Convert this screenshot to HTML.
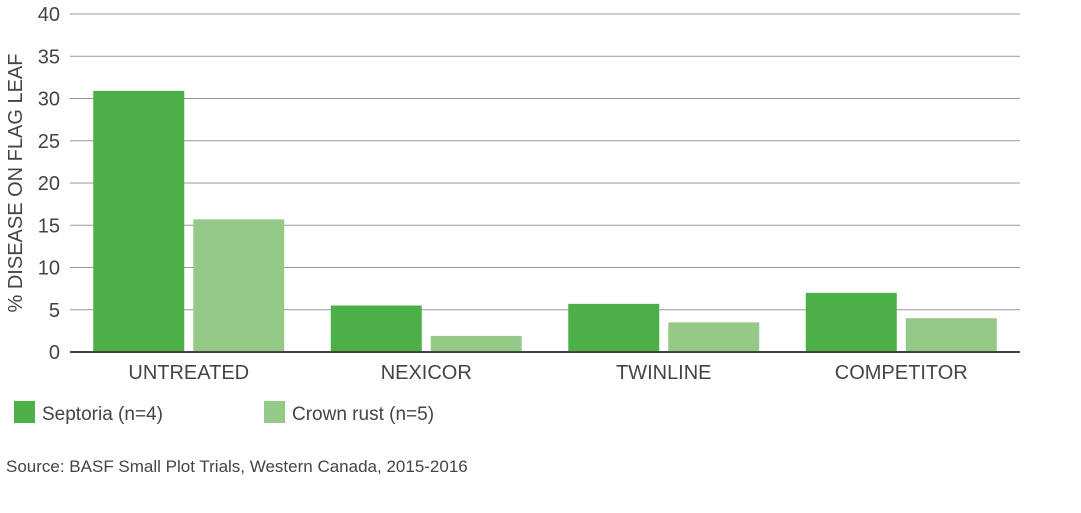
<!DOCTYPE html>
<html><head><meta charset="utf-8"><style>
body{margin:0;background:#fff;width:1081px;height:508px;overflow:hidden}
svg{font-family:"Liberation Sans",Arial,sans-serif}
</style></head><body>
<svg id="chart" width="1081" height="508">
<g id="grid"></g>
<g id="bars"></g>
<g id="ylabels"></g>
<g id="xlabels"></g>
<text transform="translate(22,183) rotate(-90)" text-anchor="middle" font-size="20" fill="#444">% DISEASE ON FLAG LEAF</text>
<g>
<rect x="14" y="401" width="21" height="22" fill="#4caf47"/>
<text x="42" y="420" font-size="19" fill="#444">Septoria (n=4)</text>
<rect x="264" y="401" width="21" height="22" fill="#95c987"/>
<text x="292" y="420" font-size="19" fill="#444">Crown rust (n=5)</text>
</g>
<text x="6" y="472" font-size="17" fill="#444">Source: BASF Small Plot Trials, Western Canada, 2015-2016</text>
</svg>
<script>
const categories=["UNTREATED","NEXICOR","TWINLINE","COMPETITOR"];
const septoria=[30.9,5.5,5.7,7.0];
const crownRust=[15.7,1.9,3.5,4.0];
const yTicks=[0,5,10,15,20,25,30,35,40];
const NS="http://www.w3.org/2000/svg";
const x0=70,x1=1020,y0=352,y1=14,ymax=40;
function y(v){return y0-(v/ymax)*(y0-y1);}
const band=(x1-x0)/categories.length;
function cx(i){return x0+band*(i+0.5);}
function mk(t,a,p){const e=document.createElementNS(NS,t);for(const k in a)e.setAttribute(k,a[k]);p.appendChild(e);return e;}
const grid=document.getElementById('grid'),yl=document.getElementById('ylabels'),bars=document.getElementById('bars'),xl=document.getElementById('xlabels');
yTicks.forEach(t=>{
 const l=mk('line',{x1:x0,x2:x1,y1:y(t),y2:y(t),stroke:t===0?'#444':'#999','stroke-width':t===0?2:1},grid);
 
 
 const tx=mk('text',{x:60,y:y(t)+7,'text-anchor':'end','font-size':20,fill:'#444'},yl);
 tx.textContent=t;
 
 
});
const bw=91,gap=9;
categories.forEach((c,i)=>{
 const b1=mk('rect',{x:cx(i)-gap/2-bw,y:y(septoria[i]),width:bw,height:y0-y(septoria[i]),fill:'#4caf47'},bars);
 
 
 const b2=mk('rect',{x:cx(i)+gap/2,y:y(crownRust[i]),width:bw,height:y0-y(crownRust[i]),fill:'#95c987'},bars);
 
 
 const t=mk('text',{x:cx(i),y:379,'text-anchor':'middle','font-size':20,fill:'#444'},xl);
 t.textContent=c;
 
 
});
// redraw axis line on top
const ax=mk('line',{x1:x0,x2:x1,y1:y0,y2:y0,stroke:'#444','stroke-width':2},document.getElementById('chart'));


</script>
</body></html>
